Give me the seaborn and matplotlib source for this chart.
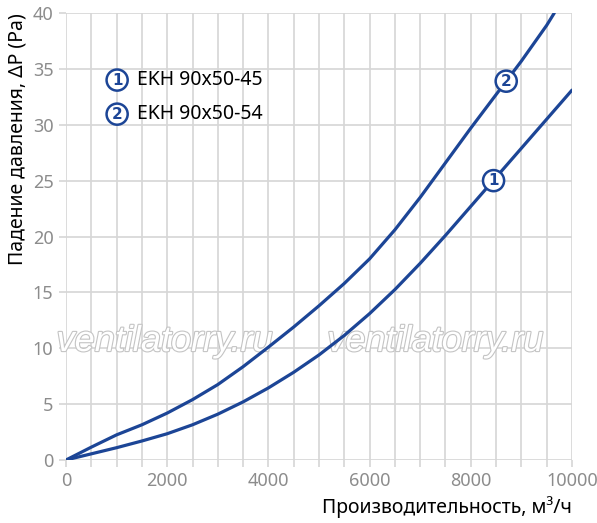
import numpy as np
import pandas as pd
import matplotlib
matplotlib.use('Agg')
import matplotlib.pyplot as plt
import matplotlib.patheffects as pe
from matplotlib.ticker import MultipleLocator
import seaborn as sns

# расход, м3/ч
flow = [0, 500, 1000, 1500, 2000, 2500, 3000, 3500, 4000, 4500, 5000,
        5500, 6000, 6500, 7000, 7500, 8000, 8500, 9000, 9500, 10000]
# EKH 90x50-45
dp_45 = [0, 0.55, 1.1, 1.7, 2.35, 3.15, 4.1, 5.2, 6.45, 7.85, 9.4,
         11.15, 13.1, 15.25, 17.6, 20.1, 22.7, 25.3, 27.9, 30.5, 33.1]
# EKH 90x50-54
flow_54 = [0, 500, 1000, 1500, 2000, 2500, 3000, 3500, 4000, 4500, 5000,
           5500, 6000, 6500, 7000, 7500, 8000, 8500, 9000, 9500, 9650]
dp_54 = [0, 1.15, 2.25, 3.15, 4.2, 5.4, 6.75, 8.35, 10.1, 11.9, 13.8,
         15.8, 18.0, 20.6, 23.5, 26.6, 29.7, 32.7, 35.7, 38.9, 40.0]

names = ['EKH 90x50-45', 'EKH 90x50-54']
marks = ['1', '2']
mark_xy = [(8450, 25.0), (8700, 33.9)]

df = pd.concat([
    pd.DataFrame({'flow': flow, 'dp': dp_45, 'model': names[0]}),
    pd.DataFrame({'flow': flow_54, 'dp': dp_54, 'model': names[1]}),
])

sns.set_theme(style='whitegrid')
plt.rcParams['font.family'] = ['Noto Sans', 'DejaVu Sans']

blue = '#1c4596'
grid = '#d6d6d6'

fig = plt.figure(figsize=(5.97, 5.23), dpi=100)
ax = fig.add_axes([0.1106, 0.1205, 0.8475, 0.8546])

sns.lineplot(data=df, x='flow', y='dp', hue='model', palette=[blue, blue],
             linewidth=2.3, legend=False, ax=ax, sort=False)
for ln in ax.lines:
    ln.set_solid_joinstyle('round')

ax.set_xlim(0, 10000)
ax.set_ylim(0, 40)
ax.xaxis.set_major_locator(MultipleLocator(2000))
ax.xaxis.set_minor_locator(MultipleLocator(500))
ax.yaxis.set_major_locator(MultipleLocator(5))
ax.grid(which='both', color=grid, linewidth=1.2)
ax.set_axisbelow(True)
for s in ax.spines.values():
    s.set_visible(False)
ax.tick_params(which='both', color=grid, length=5, width=1.2,
               labelcolor='#8c8c8c', labelsize=13, pad=4)
ax.tick_params(axis='x', which='both', bottom=True)
ax.tick_params(axis='y', left=True)

ax.set_xlabel('Производительность, м³/ч', loc='right', fontsize=14, color='black')
ax.set_ylabel('Падение давления, ΔP (Pa)', loc='top', fontsize=14, color='black')

circ = dict(boxstyle='circle,pad=0.2', fc='white', ec=blue, lw=1.8)
for m, (x, y) in zip(marks, mark_xy):
    ax.text(x, y, m, ha='center', va='center', fontsize=11, fontweight='bold',
            family='DejaVu Sans', color=blue, bbox=circ, zorder=5)

# легенда
for i, (m, n) in enumerate(zip(marks, names)):
    y = 34.0 - 3.05 * i
    ax.text(1010, y, m, ha='center', va='center', fontsize=11, fontweight='bold',
            family='DejaVu Sans', color=blue, bbox=circ, zorder=5)
    ax.text(1400, y, n, ha='left', va='center', fontsize=14, color='black')

# водяной знак
for xw in [0.195, 0.73]:
    ax.text(xw, 0.265, 'ventilatorry.ru', transform=ax.transAxes,
            ha='center', va='center', fontsize=26, style='italic',
            family='Liberation Sans', color='white', zorder=1,
            path_effects=[pe.withStroke(linewidth=1.6, foreground='#c4c4c4')])

fig.savefig('out.png', dpi=100)
